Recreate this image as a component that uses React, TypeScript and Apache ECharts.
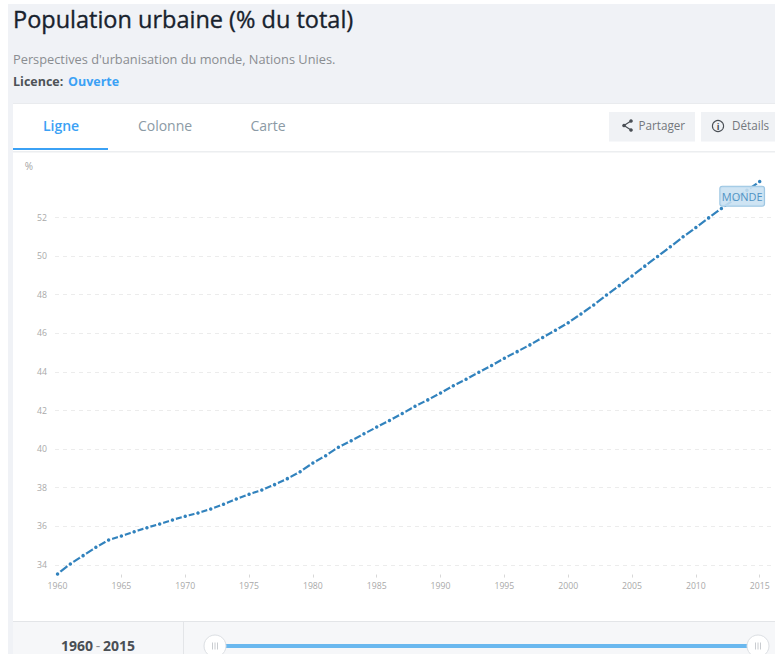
import React, { useEffect, useRef } from "react";
import * as echarts from "echarts";

const UI_FONT = '"Open Sans", "Noto Sans", sans-serif';
const BLUE = "#3ba1f5";

const startYear = 1960;
const urbanShare = [
  33.53, 34.05, 34.48, 34.91, 35.29, 35.5, 35.72, 35.93, 36.12, 36.33,
  36.52, 36.69, 36.9, 37.14, 37.41, 37.66, 37.88, 38.16, 38.47, 38.83,
  39.28, 39.66, 40.1, 40.43, 40.79, 41.14, 41.48, 41.84, 42.22, 42.55,
  42.91, 43.28, 43.62, 43.98, 44.33, 44.71, 45.05, 45.4, 45.78, 46.16,
  46.55, 47.0, 47.47, 47.98, 48.47, 48.97, 49.48, 49.98, 50.48, 51.0,
  51.48, 51.98, 52.47, 52.93, 53.41, 53.86,
];
const yearTicks = [1960, 1965, 1970, 1975, 1980, 1985, 1990, 1995, 2000, 2005, 2010, 2015];
const percentTicks = [34, 36, 38, 40, 42, 44, 46, 48, 50, 52];
const seriesName = "MONDE";

const label = (text: string, x: number, y: number, fill: string, font: string, align = "left", stroke?: string) => ({
  type: "text",
  x,
  y,
  z: 5,
  style: { text, fill, font, textAlign: align, textVerticalAlign: "middle", ...(stroke ? { stroke, lineWidth: 0.35 } : {}) },
});

const panel = (x: number, y: number, width: number, height: number, fill: string, z = -10) => ({
  type: "rect",
  z,
  shape: { x, y, width, height },
  style: { fill },
});

// Three short bars inside a slider handle
const handle = (cx: number) => ({
  type: "group",
  z: 6,
  children: [
    { type: "circle", z: 6, shape: { cx, cy: 646, r: 11 }, style: { fill: "#fff", stroke: "#dcdfe3", lineWidth: 1 } },
    ...[-2.5, 0, 2.5].map((dx) => ({
      type: "line",
      z: 7,
      shape: { x1: cx + dx, y1: 642.5, x2: cx + dx, y2: 649.5 },
      style: { stroke: "#c9ccd0", lineWidth: 1 },
    })),
  ],
});

const pageChrome = [
  panel(8, 4, 767, 650, "#f0f2f6", -20),
  panel(13, 103, 762, 551, "#ffffff", -15),
  panel(13, 103, 762, 1, "#e9ebee", -14),
  panel(13, 151, 762, 1.5, "#eceef0", -14),
  panel(13, 148, 95, 2, BLUE, -13),
  panel(13, 621, 762, 33, "#f6f7f9", -12),
  panel(13, 621, 762, 1, "#e3e5e8", -11),
  panel(183, 621, 1, 33, "#e3e5e8", -11),
  panel(609, 112, 86, 29.5, "#f0f2f5", -11),
  panel(701, 112, 74, 29.5, "#f0f2f5", -11),
  label("Population urbaine (% du total)", 13, 19, "#18222d", `500 23.5px ${UI_FONT}`, "left", "#18222d"),
  label("Perspectives d'urbanisation du monde, Nations Unies.", 13, 59, "#8a8d91", `12.8px ${UI_FONT}`),
  label("Licence:", 13, 81.5, "#4d5257", `bold 12.5px ${UI_FONT}`),
  label("Ouverte", 68, 81.5, BLUE, `bold 12.5px ${UI_FONT}`),
  label("Ligne", 61, 125, BLUE, `600 14px ${UI_FONT}`, "center"),
  label("Colonne", 165, 125, "#8b9aa5", `14px ${UI_FONT}`, "center"),
  label("Carte", 268, 125, "#8b9aa5", `14px ${UI_FONT}`, "center"),
  label("Partager", 638.5, 125, "#74787d", `11.7px ${UI_FONT}`),
  label("Détails", 732, 125, "#74787d", `11.7px ${UI_FONT}`),
  // Share icon
  { type: "polyline", z: 5, shape: { points: [[631, 121], [624, 125.5], [631, 130]] }, style: { stroke: "#4a4f55", lineWidth: 1.2, fill: "none" } },
  ...[[631, 121], [624, 125.5], [631, 130]].map(([cx, cy]) => ({
    type: "circle", z: 5, shape: { cx, cy, r: 1.8 }, style: { fill: "#4a4f55" },
  })),
  // Info icon
  { type: "circle", z: 5, shape: { cx: 718, cy: 126, r: 5.6 }, style: { fill: "none", stroke: "#4a4f55", lineWidth: 1.1 } },
  label("i", 718, 126, "#4a4f55", `bold 9px ${UI_FONT}`, "center"),
  label("%", 29, 165.5, "#a5a5a5", `10px ${UI_FONT}`, "center"),
  label("1960", 61, 645, "#4a4f55", `bold 14px ${UI_FONT}`),
  label("-", 98, 645, "#8a8d91", `14px ${UI_FONT}`, "center"),
  label("2015", 103, 645, "#4a4f55", `bold 14px ${UI_FONT}`),
  panel(215, 644, 543, 4, "#6ab8ef", 1),
  handle(215),
  handle(758),
];

export default function App() {
  const ref = useRef<HTMLDivElement>(null);

  useEffect(() => {
    document.body.style.margin = "0";
    const chart = echarts.init(ref.current!, null, { renderer: "svg" });
    const points = urbanShare.map((v, i) => [startYear + i, v]);
    chart.setOption({
      animation: false,
      backgroundColor: "#ffffff",
      grid: { left: 55, right: 0, top: 178.9, height: 395.65, containLabel: false },
      graphic: { elements: pageChrome },
      xAxis: {
        type: "value",
        min: 1959.8,
        max: 2016.2,
        axisLine: { show: false },
        splitLine: { show: false },
        axisTick: { show: true, length: 3, customValues: yearTicks, lineStyle: { color: "#d8d8d8" } },
        axisLabel: {
          customValues: yearTicks,
          color: "#a9a9a9",
          fontFamily: UI_FONT,
          fontSize: 8.7,
          margin: 7,
          formatter: (v: number) => String(v),
        },
      },
      yAxis: {
        type: "value",
        min: 33.5,
        max: 54,
        axisLine: { show: false },
        axisTick: { show: false, customValues: percentTicks },
        axisLabel: {
          customValues: percentTicks,
          color: "#a9a9a9",
          fontFamily: UI_FONT,
          fontSize: 8.7,
          margin: 8,
        },
        splitLine: { show: true, lineStyle: { color: "#ececec", type: [4, 4], width: 1 } },
      },
      series: [
        {
          type: "line",
          name: seriesName,
          data: points,
          showSymbol: true,
          showAllSymbol: true,
          symbol: "circle",
          symbolSize: 5.5,
          clip: false,
          lineStyle: { color: "#3182bd", width: 2.2 },
          itemStyle: { color: "#3182bd", borderColor: "#ffffff", borderWidth: 2 },
          // Series tag pinned just below the last point, above the line
          markPoint: {
            silent: true,
            symbol: "rect",
            symbolSize: 0,
            data: [{ coord: points[points.length - 1] }],
            label: {
              show: true,
              formatter: seriesName,
              position: "inside",
              offset: [-17.5, 14.7],
              color: "#4f93c4",
              fontFamily: UI_FONT,
              fontSize: 11,
              backgroundColor: "rgba(200,224,241,0.88)",
              borderColor: "#9cc6e3",
              borderWidth: 1,
              borderRadius: 2,
              padding: [4, 1.5, 4, 1.5],
            },
          },
        },
      ],
    });
    return () => chart.dispose();
  }, []);

  return <div ref={ref} style={{ width: 775, height: 654 }} />;
}
